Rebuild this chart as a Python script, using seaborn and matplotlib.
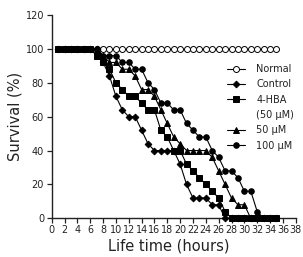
import matplotlib
matplotlib.use("Agg")
import matplotlib.pyplot as plt
import seaborn as sns
import numpy as np
import pandas as pd
from matplotlib.lines import Line2D

hours = list(range(1, 36))

normal = [100] * 35
control = [100] * 7 + [92, 84, 72, 64, 60, 60, 52, 44, 40, 40, 40, 40, 32, 20,
                       12, 12, 12, 8, 8, 0, 0, 0, 0, 0, 0, 0, 0, 0]
hba = [100] * 6 + [96, 92, 88, 80, 76, 72, 72, 68, 64, 64, 52, 48, 40, 40, 32,
                   28, 24, 20, 16, 12, 4, 0, 0, 0, 0, 0, 0, 0, 0]
um50 = [100] * 7 + [96, 92, 92, 88, 88, 84, 76, 76, 72, 64, 56, 48, 44, 40, 40,
                    40, 40, 36, 28, 20, 12, 8, 8, 0, 0, 0, 0, 0]
um100 = [100] * 7 + [96, 96, 96, 92, 92, 88, 88, 80, 76, 68, 68, 64, 64, 56, 52,
                     48, 48, 40, 36, 28, 28, 24, 16, 16, 4, 0, 0, 0]

series = ["Normal", "Control", "4-HBA", "50 μM", "100 μM"]
values = [normal, control, hba, um50, um100]
markers = ["o", "D", "s", "^", "o"]
msizes = [4.3, 3.4, 3.7, 4.2, 4.0]
faces = ["white", "black", "black", "black", "black"]

xticks = list(range(0, 40, 2))
yticks = list(range(0, 140, 20))

sns.set_style("ticks")
plt.rcParams['font.family'] = ['DejaVu Sans']

fig = plt.figure(figsize=(3.03, 2.57), dpi=100)
ax = fig.add_axes([0.1706, 0.1506, 0.8054, 0.791])

for i in [0, 1, 2, 3, 4]:
    df = pd.DataFrame({"Hours": hours, "Survival": values[i]})
    sns.lineplot(data=df, x="Hours", y="Survival", ax=ax, color="black",
                 linewidth=0.8, marker=markers[i], markersize=msizes[i],
                 markerfacecolor=faces[i], markeredgecolor="black",
                 markeredgewidth=0.7, clip_on=False, zorder=3 + i)

ax.set_xlim(0, 38)
ax.set_ylim(0, 120)
ax.set_xticks(xticks)
ax.set_yticks(yticks)
ax.tick_params(axis="both", direction="out", length=3.5, width=0.9,
               labelsize=7, pad=2, colors="#222222")
ax.tick_params(axis="x", labelsize=6.9, pad=1.5)
for s in ["top", "right"]:
    ax.spines[s].set_visible(False)
for s in ["left", "bottom"]:
    ax.spines[s].set_linewidth(1.0)
    ax.spines[s].set_color("#222222")

ax.set_xlabel("Life time (hours)", fontsize=10.5, labelpad=2, color="#222222")
ax.xaxis.set_label_coords(0.48, -0.1)
ax.xaxis.label.set_va("top")
ax.set_ylabel("Survival (%)", fontsize=10.5, labelpad=2.5, color="#222222")

handles = []
labels = []
leg_labels = ["Normal", "Control", "4-HBA", "(50 μM)", "50 μM", "100 μM"]
leg_idx = [0, 1, 2, None, 3, 4]
for lab, idx in zip(leg_labels, leg_idx):
    if idx is None:
        handles.append(Line2D([], [], linestyle="none", marker=None))
    else:
        handles.append(Line2D([], [], color="black", linewidth=0.8,
                              marker=markers[idx], markersize=msizes[idx],
                              markerfacecolor=faces[idx],
                              markeredgecolor="black", markeredgewidth=0.7))
    labels.append(lab)

leg = ax.legend(handles, labels, loc="upper left",
                bbox_to_anchor=(227 / 303, 1 - 64 / 257),
                bbox_transform=fig.transFigure, frameon=False,
                fontsize=7, handlelength=1.8, handletextpad=1.2,
                labelspacing=0.55, borderpad=0, borderaxespad=0)
for t in leg.get_texts():
    t.set_color("#222222")

fig.savefig("out.png", dpi=100)
